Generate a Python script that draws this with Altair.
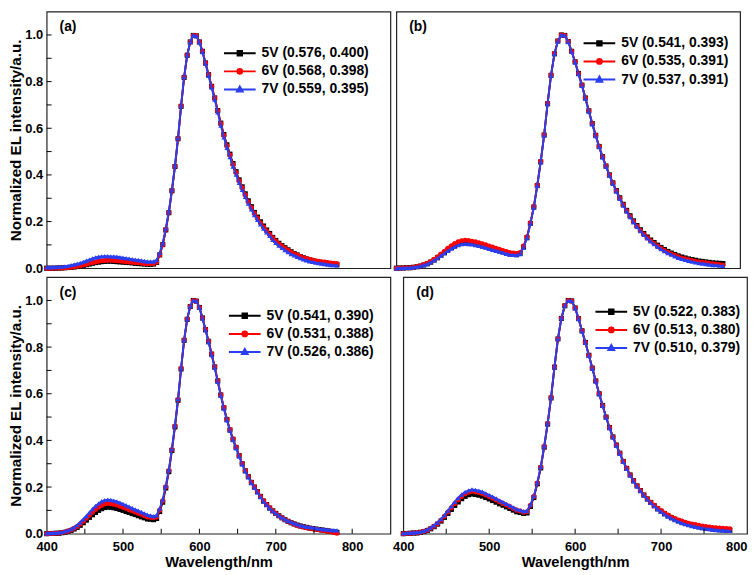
import altair as alt
import pandas as pd

# ---------------- data ----------------
wavelength = list(range(400, 784, 4))  # 96 sampling points, 4 nm apart

a_5v = [0.000, 0.000, 0.000, 0.000, 0.001, 0.001, 0.002, 0.003, 0.004, 0.005,
        0.007, 0.010, 0.012, 0.015, 0.018, 0.021, 0.024, 0.026, 0.028, 0.029,
        0.030, 0.030, 0.029, 0.028, 0.027, 0.026, 0.025, 0.024, 0.023, 0.021,
        0.020, 0.019, 0.018, 0.017, 0.017, 0.018, 0.025, 0.057, 0.101, 0.164,
        0.238, 0.332, 0.436, 0.555, 0.694, 0.818, 0.913, 0.970, 0.998, 0.996,
        0.970, 0.930, 0.880, 0.830, 0.780, 0.730, 0.676, 0.622, 0.573, 0.529,
        0.489, 0.449, 0.414, 0.379, 0.349, 0.319, 0.289, 0.264, 0.239, 0.219,
        0.199, 0.181, 0.164, 0.149, 0.132, 0.119, 0.107, 0.097, 0.088, 0.079,
        0.071, 0.063, 0.057, 0.050, 0.045, 0.040, 0.036, 0.032, 0.029, 0.026,
        0.024, 0.022, 0.020, 0.018, 0.016, 0.015]
a_6v = [0.000, 0.000, 0.000, 0.001, 0.001, 0.001, 0.002, 0.003, 0.004, 0.006,
        0.008, 0.011, 0.014, 0.017, 0.021, 0.024, 0.027, 0.030, 0.032, 0.033,
        0.034, 0.034, 0.033, 0.032, 0.031, 0.030, 0.028, 0.027, 0.026, 0.024,
        0.023, 0.022, 0.020, 0.019, 0.020, 0.020, 0.027, 0.058, 0.102, 0.166,
        0.239, 0.333, 0.437, 0.556, 0.695, 0.819, 0.913, 0.970, 0.998, 0.997,
        0.970, 0.930, 0.880, 0.830, 0.780, 0.730, 0.675, 0.620, 0.570, 0.525,
        0.485, 0.445, 0.410, 0.375, 0.345, 0.315, 0.285, 0.260, 0.235, 0.215,
        0.195, 0.177, 0.160, 0.145, 0.130, 0.117, 0.105, 0.095, 0.086, 0.077,
        0.069, 0.062, 0.056, 0.050, 0.045, 0.042, 0.038, 0.035, 0.032, 0.030,
        0.028, 0.026, 0.024, 0.022, 0.021, 0.020]
a_7v = [0.004, 0.004, 0.005, 0.005, 0.006, 0.007, 0.008, 0.010, 0.013, 0.016,
        0.019, 0.023, 0.027, 0.032, 0.037, 0.042, 0.046, 0.049, 0.051, 0.052,
        0.052, 0.051, 0.050, 0.049, 0.047, 0.045, 0.043, 0.041, 0.039, 0.037,
        0.035, 0.033, 0.031, 0.029, 0.029, 0.029, 0.035, 0.066, 0.108, 0.171,
        0.244, 0.337, 0.441, 0.559, 0.697, 0.821, 0.914, 0.971, 0.999, 0.996,
        0.968, 0.927, 0.876, 0.825, 0.774, 0.723, 0.668, 0.612, 0.561, 0.516,
        0.476, 0.436, 0.401, 0.366, 0.336, 0.306, 0.277, 0.252, 0.228, 0.208,
        0.188, 0.170, 0.154, 0.139, 0.122, 0.109, 0.097, 0.087, 0.078, 0.069,
        0.061, 0.055, 0.049, 0.043, 0.038, 0.034, 0.030, 0.027, 0.024, 0.022,
        0.020, 0.018, 0.016, 0.014, 0.013, 0.012]

b_5v = [0.000, 0.001, 0.001, 0.002, 0.002, 0.004, 0.006, 0.009, 0.014, 0.019,
        0.026, 0.035, 0.045, 0.056, 0.067, 0.078, 0.088, 0.097, 0.103, 0.108,
        0.110, 0.109, 0.107, 0.104, 0.100, 0.096, 0.092, 0.087, 0.083, 0.079,
        0.074, 0.070, 0.065, 0.061, 0.060, 0.058, 0.063, 0.091, 0.131, 0.192,
        0.262, 0.354, 0.456, 0.571, 0.705, 0.827, 0.919, 0.974, 1.000, 0.998,
        0.972, 0.930, 0.885, 0.835, 0.785, 0.730, 0.675, 0.620, 0.570, 0.522,
        0.478, 0.438, 0.400, 0.366, 0.333, 0.302, 0.274, 0.248, 0.225, 0.203,
        0.183, 0.165, 0.149, 0.134, 0.121, 0.110, 0.099, 0.089, 0.080, 0.072,
        0.065, 0.059, 0.053, 0.048, 0.044, 0.040, 0.037, 0.034, 0.031, 0.029,
        0.027, 0.025, 0.023, 0.022, 0.021, 0.020]
b_6v = [0.000, 0.001, 0.001, 0.002, 0.002, 0.004, 0.007, 0.010, 0.015, 0.021,
        0.029, 0.038, 0.049, 0.061, 0.073, 0.085, 0.096, 0.106, 0.113, 0.118,
        0.120, 0.119, 0.116, 0.113, 0.109, 0.105, 0.100, 0.095, 0.091, 0.086,
        0.081, 0.076, 0.071, 0.067, 0.065, 0.063, 0.067, 0.095, 0.135, 0.195,
        0.265, 0.357, 0.458, 0.572, 0.707, 0.828, 0.920, 0.974, 1.000, 0.998,
        0.972, 0.930, 0.885, 0.835, 0.785, 0.730, 0.675, 0.620, 0.570, 0.522,
        0.478, 0.438, 0.400, 0.365, 0.332, 0.300, 0.272, 0.246, 0.222, 0.200,
        0.180, 0.162, 0.146, 0.131, 0.118, 0.106, 0.095, 0.085, 0.076, 0.068,
        0.061, 0.055, 0.049, 0.044, 0.040, 0.036, 0.033, 0.030, 0.027, 0.025,
        0.023, 0.021, 0.019, 0.018, 0.016, 0.014]
b_7v = [0.000, 0.001, 0.001, 0.002, 0.002, 0.004, 0.006, 0.009, 0.013, 0.018,
        0.025, 0.034, 0.043, 0.054, 0.064, 0.075, 0.084, 0.092, 0.099, 0.103,
        0.105, 0.104, 0.102, 0.099, 0.096, 0.092, 0.088, 0.083, 0.079, 0.075,
        0.071, 0.067, 0.062, 0.058, 0.057, 0.056, 0.061, 0.089, 0.129, 0.190,
        0.261, 0.353, 0.455, 0.570, 0.705, 0.827, 0.919, 0.973, 1.000, 0.998,
        0.970, 0.928, 0.882, 0.832, 0.782, 0.727, 0.672, 0.617, 0.567, 0.519,
        0.475, 0.435, 0.397, 0.362, 0.329, 0.297, 0.269, 0.243, 0.219, 0.197,
        0.177, 0.159, 0.143, 0.128, 0.115, 0.103, 0.092, 0.082, 0.073, 0.065,
        0.058, 0.051, 0.045, 0.040, 0.036, 0.032, 0.028, 0.025, 0.022, 0.020,
        0.018, 0.016, 0.014, 0.013, 0.011, 0.010]

c_5v = [0.000, 0.001, 0.001, 0.002, 0.002, 0.004, 0.006, 0.010, 0.014, 0.020,
        0.027, 0.036, 0.047, 0.058, 0.070, 0.081, 0.091, 0.100, 0.107, 0.112,
        0.114, 0.113, 0.111, 0.108, 0.104, 0.100, 0.095, 0.091, 0.086, 0.082,
        0.077, 0.072, 0.068, 0.063, 0.062, 0.060, 0.065, 0.095, 0.135, 0.196,
        0.266, 0.357, 0.458, 0.572, 0.706, 0.829, 0.919, 0.974, 1.000, 0.997,
        0.970, 0.925, 0.875, 0.825, 0.770, 0.715, 0.655, 0.595, 0.540, 0.490,
        0.445, 0.405, 0.370, 0.335, 0.300, 0.270, 0.245, 0.220, 0.200, 0.180,
        0.160, 0.140, 0.125, 0.110, 0.098, 0.087, 0.077, 0.068, 0.060, 0.053,
        0.047, 0.042, 0.037, 0.033, 0.030, 0.027, 0.024, 0.022, 0.020, 0.018,
        0.016, 0.014, 0.012, 0.010, 0.008, 0.006]
c_6v = [0.000, 0.001, 0.001, 0.002, 0.003, 0.005, 0.007, 0.011, 0.016, 0.023,
        0.031, 0.042, 0.053, 0.066, 0.079, 0.092, 0.104, 0.114, 0.122, 0.127,
        0.130, 0.129, 0.126, 0.123, 0.118, 0.114, 0.109, 0.103, 0.098, 0.093,
        0.088, 0.083, 0.077, 0.072, 0.070, 0.068, 0.072, 0.101, 0.141, 0.201,
        0.271, 0.361, 0.462, 0.575, 0.708, 0.830, 0.920, 0.975, 1.000, 0.997,
        0.970, 0.925, 0.876, 0.826, 0.771, 0.716, 0.656, 0.596, 0.541, 0.491,
        0.446, 0.406, 0.370, 0.335, 0.301, 0.271, 0.245, 0.221, 0.200, 0.180,
        0.160, 0.141, 0.125, 0.111, 0.098, 0.087, 0.077, 0.068, 0.060, 0.053,
        0.047, 0.041, 0.036, 0.032, 0.029, 0.026, 0.023, 0.021, 0.019, 0.017,
        0.015, 0.013, 0.011, 0.008, 0.005, 0.002]
c_7v = [0.002, 0.003, 0.003, 0.004, 0.005, 0.007, 0.010, 0.014, 0.020, 0.027,
        0.037, 0.049, 0.062, 0.076, 0.091, 0.106, 0.119, 0.130, 0.139, 0.144,
        0.146, 0.145, 0.142, 0.138, 0.133, 0.128, 0.122, 0.116, 0.110, 0.104,
        0.099, 0.093, 0.087, 0.081, 0.078, 0.075, 0.079, 0.108, 0.147, 0.206,
        0.275, 0.365, 0.465, 0.578, 0.710, 0.832, 0.921, 0.976, 1.000, 0.998,
        0.969, 0.923, 0.872, 0.821, 0.766, 0.711, 0.651, 0.591, 0.536, 0.486,
        0.441, 0.401, 0.366, 0.331, 0.297, 0.267, 0.242, 0.217, 0.197, 0.177,
        0.157, 0.138, 0.123, 0.109, 0.097, 0.087, 0.078, 0.069, 0.062, 0.055,
        0.050, 0.045, 0.040, 0.036, 0.033, 0.030, 0.028, 0.026, 0.024, 0.022,
        0.020, 0.019, 0.017, 0.016, 0.015, 0.014]

d_5v = [0.000, 0.001, 0.002, 0.003, 0.003, 0.006, 0.009, 0.014, 0.021, 0.030,
        0.041, 0.054, 0.070, 0.087, 0.104, 0.121, 0.136, 0.150, 0.160, 0.167,
        0.170, 0.168, 0.165, 0.161, 0.155, 0.149, 0.142, 0.135, 0.128, 0.122,
        0.115, 0.108, 0.101, 0.094, 0.091, 0.087, 0.089, 0.117, 0.155, 0.214,
        0.282, 0.371, 0.470, 0.582, 0.714, 0.835, 0.923, 0.977, 1.000, 0.998,
        0.968, 0.922, 0.870, 0.820, 0.765, 0.710, 0.655, 0.600, 0.550, 0.500,
        0.455, 0.415, 0.380, 0.345, 0.310, 0.280, 0.252, 0.227, 0.205, 0.185,
        0.166, 0.149, 0.134, 0.120, 0.107, 0.096, 0.086, 0.077, 0.069, 0.062,
        0.056, 0.050, 0.045, 0.040, 0.036, 0.032, 0.029, 0.026, 0.024, 0.022,
        0.020, 0.018, 0.017, 0.016, 0.015, 0.014]
d_6v = [0.000, 0.001, 0.002, 0.003, 0.004, 0.006, 0.010, 0.015, 0.023, 0.032,
        0.044, 0.058, 0.075, 0.093, 0.111, 0.129, 0.146, 0.160, 0.171, 0.178,
        0.182, 0.180, 0.177, 0.172, 0.166, 0.159, 0.152, 0.145, 0.137, 0.130,
        0.123, 0.116, 0.108, 0.101, 0.097, 0.092, 0.094, 0.122, 0.160, 0.217,
        0.285, 0.374, 0.472, 0.584, 0.715, 0.836, 0.924, 0.978, 1.000, 0.998,
        0.968, 0.922, 0.870, 0.820, 0.765, 0.710, 0.655, 0.600, 0.550, 0.500,
        0.455, 0.415, 0.380, 0.345, 0.310, 0.280, 0.252, 0.227, 0.205, 0.185,
        0.166, 0.150, 0.135, 0.122, 0.109, 0.099, 0.089, 0.080, 0.072, 0.065,
        0.059, 0.054, 0.049, 0.045, 0.042, 0.039, 0.036, 0.033, 0.031, 0.029,
        0.027, 0.025, 0.024, 0.023, 0.022, 0.021]
d_7v = [0.002, 0.003, 0.004, 0.005, 0.006, 0.008, 0.012, 0.018, 0.026, 0.036,
        0.048, 0.063, 0.080, 0.099, 0.118, 0.137, 0.154, 0.168, 0.179, 0.186,
        0.190, 0.188, 0.184, 0.180, 0.173, 0.166, 0.159, 0.151, 0.143, 0.136,
        0.128, 0.121, 0.113, 0.105, 0.101, 0.096, 0.098, 0.125, 0.162, 0.220,
        0.287, 0.376, 0.474, 0.585, 0.717, 0.837, 0.925, 0.978, 1.000, 0.998,
        0.967, 0.921, 0.868, 0.818, 0.763, 0.708, 0.653, 0.598, 0.548, 0.498,
        0.453, 0.413, 0.378, 0.343, 0.308, 0.278, 0.250, 0.225, 0.203, 0.183,
        0.164, 0.147, 0.132, 0.118, 0.105, 0.094, 0.083, 0.074, 0.066, 0.059,
        0.052, 0.046, 0.041, 0.037, 0.033, 0.030, 0.027, 0.024, 0.022, 0.020,
        0.018, 0.016, 0.015, 0.014, 0.013, 0.012]

labels_a = ["5V (0.576, 0.400)", "6V (0.568, 0.398)", "7V (0.559, 0.395)"]
labels_b = ["5V (0.541, 0.393)", "6V (0.535, 0.391)", "7V (0.537, 0.391)"]
labels_c = ["5V (0.541, 0.390)", "6V (0.531, 0.388)", "7V (0.526, 0.386)"]
labels_d = ["5V (0.522, 0.383)", "6V (0.513, 0.380)", "7V (0.510, 0.379)"]
panel_tags = ["(a)", "(b)", "(c)", "(d)"]

x_label_values = [400, 500, 600, 700, 800]
x_minor_ticks = [450, 500, 550, 600, 650, 700, 750, 800]
y_label_values = [0.0, 0.2, 0.4, 0.6, 0.8, 1.0]
y_minor_ticks = [0.1, 0.2, 0.3, 0.4, 0.5, 0.6, 0.7, 0.8, 0.9, 1.0]

# ---------------- style ----------------
colors = ["#000000", "#ff0000", "#2a3ff2"]
marker_shapes = ["square", "circle", "triangle-up"]
legend_symbols = [
    "M-1,0L1,0M-0.14,-0.14L0.14,-0.14L0.14,0.14L-0.14,0.14Z",
    "M-1,0L1,0M0.15,0A0.15,0.15,0,1,1,-0.15,0A0.15,0.15,0,1,1,0.15,0Z",
    "M-1,0L1,0M0,-0.19L0.18,0.13L-0.18,0.13Z",
]
FONT = "Liberation Sans"
W, H = 347, 259


def make_panel(series, labels, tag, x_max, show_x, show_y, leg_x, leg_y, flush_last=False):
    frames = [pd.DataFrame({"wl": wavelength, "val": vals, "series": lab})
              for lab, vals in zip(labels, series)]
    df = pd.concat(frames, ignore_index=True)
    xs = alt.Scale(domain=[400, x_max], nice=False, zero=False)
    ys = alt.Scale(domain=[0, 1.1], nice=False, zero=False)

    if show_x:
        xaxis_kw = dict(values=x_label_values, title="Wavelength/nm", ticks=False, domain=False,
                        grid=False, labelFlush=False, labelFont=FONT, labelFontSize=13,
                        labelFontWeight="bold", labelColor="black", labelPadding=7,
                        titleFont=FONT, titleFontSize=14.8, titleFontWeight="bold",
                        titleColor="black", titlePadding=1)
        if flush_last:
            xaxis_kw["labelAlign"] = {"expr": "datum.value == 800 ? 'right' : 'center'"}
        xaxis = alt.Axis(**xaxis_kw)
    else:
        xaxis = None
    if show_y:
        yaxis = alt.Axis(values=y_label_values, format=".1f", title="Normalized EL intensity/a.u.",
                         ticks=False, domain=False, grid=False, labelFont=FONT, labelFontSize=13,
                         labelFontWeight="bold", labelColor="black", labelPadding=4,
                         titleFont=FONT, titleFontSize=15.3, titleFontWeight="bold",
                         titleColor="black", titlePadding=1)
    else:
        yaxis = None

    def X(field):
        return alt.X(field, scale=xs, axis=xaxis)

    def Y(field):
        return alt.Y(field, scale=ys, axis=yaxis)

    layers = []
    for i, lab in enumerate(labels):
        sub = alt.Chart(df).transform_filter(alt.datum.series == lab)
        layers.append(sub.mark_line(strokeWidth=1.9, color=colors[i])
                      .encode(x=X("wl:Q"), y=Y("val:Q")))
        layers.append(sub.mark_point(shape=marker_shapes[i], filled=True, size=26, opacity=1,
                                     strokeWidth=0, color=colors[i])
                      .encode(x=X("wl:Q"), y=Y("val:Q")))

    leg = alt.Legend(title=None, orient="none", legendX=leg_x, legendY=leg_y, symbolSize=1024,
                     symbolStrokeWidth=2, symbolOpacity=1, labelFont=FONT, labelFontSize=14,
                     labelFontWeight="bold", labelColor="black", labelOffset=5, rowPadding=2.3,
                     clipHeight=16, padding=0)
    layers.append(
        alt.Chart(df).transform_filter(alt.datum.wl == 400)
        .mark_point(filled=True, opacity=0)
        .encode(
            x=X("wl:Q"),
            y=Y("val:Q"),
            fill=alt.Fill("series:N", scale=alt.Scale(domain=labels, range=colors), legend=leg),
            stroke=alt.Stroke("series:N", scale=alt.Scale(domain=labels, range=colors), legend=leg),
            shape=alt.Shape("series:N", scale=alt.Scale(domain=labels, range=legend_symbols), legend=leg),
        )
    )

    if show_y:
        layers.append(
            alt.Chart(pd.DataFrame({"val": y_minor_ticks})).mark_rule(color="black", strokeWidth=1)
            .encode(y=Y("val:Q"), x=alt.value(0), x2=alt.value(5))
        )
    if show_x:
        layers.append(
            alt.Chart(pd.DataFrame({"wl": [v for v in x_minor_ticks if v < x_max]}))
            .mark_rule(color="black", strokeWidth=1)
            .encode(x=X("wl:Q"), y=alt.value(H), y2=alt.value(H - 5))
        )

    layers.append(
        alt.Chart(pd.DataFrame({"tag": [tag]}))
        .mark_text(align="left", baseline="middle", font=FONT, fontSize=14, fontWeight="bold",
                   color="black")
        .encode(text="tag:N", x=alt.value(13), y=alt.value(16))
    )
    return alt.layer(*layers).properties(width=W, height=H)


pa = make_panel([a_5v, a_6v, a_7v], labels_a, panel_tags[0], 850, False, True, 178, 34)
pb = make_panel([b_5v, b_6v, b_7v], labels_b, panel_tags[1], 800, False, False, 188, 24)
pc = make_panel([c_5v, c_6v, c_7v], labels_c, panel_tags[2], 850, True, True, 183, 31)
pd_ = make_panel([d_5v, d_6v, d_7v], labels_d, panel_tags[3], 800, True, False, 193, 27,
                 flush_last=True)

ind = dict(fill="independent", stroke="independent", shape="independent")
top = alt.hconcat(pa, pb, spacing=0).resolve_scale(**ind)
bottom = alt.hconcat(pc, pd_, spacing=0).resolve_scale(**ind)
chart = (
    alt.vconcat(top, bottom, spacing=0)
    .resolve_scale(**ind)
    .properties(padding={"left": 0, "top": 0, "right": 0, "bottom": 0})
    .configure_view(stroke="#222222", strokeWidth=1.2)
)

chart.save("out.html", embed_options={"renderer": "svg", "actions": False})
